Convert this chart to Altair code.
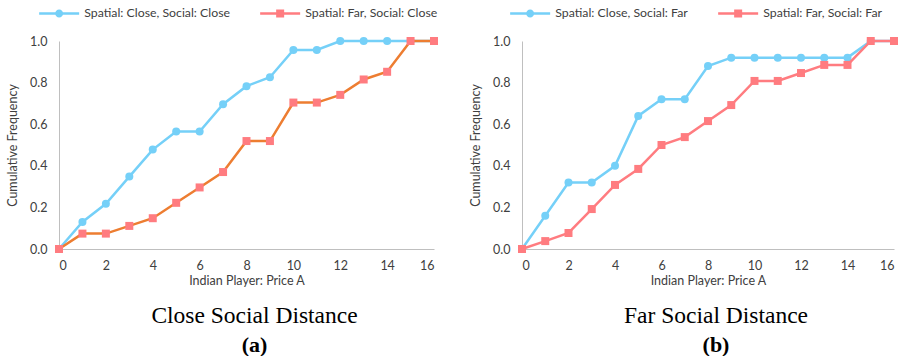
import altair as alt
import pandas as pd

prices = list(range(17))
x_ticks = [0, 2, 4, 6, 8, 10, 12, 14, 16]
y_ticks = [0.0, 0.2, 0.4, 0.6, 0.8, 1.0]

# Panel (a): Close social distance
a_names = ["Spatial: Close, Social: Close", "Spatial: Far, Social: Close"]
a_close = [0, 0.130, 0.217, 0.348, 0.478, 0.565, 0.565, 0.696, 0.783, 0.826,
           0.957, 0.957, 1.0, 1.0, 1.0, 1.0, 1.0]
a_far = [0, 0.074, 0.074, 0.111, 0.148, 0.222, 0.296, 0.370, 0.519, 0.519,
         0.704, 0.704, 0.741, 0.815, 0.852, 1.0, 1.0]

# Panel (b): Far social distance
b_names = ["Spatial: Close, Social: Far", "Spatial: Far, Social: Far"]
b_close = [0, 0.16, 0.32, 0.32, 0.40, 0.64, 0.72, 0.72, 0.88, 0.92,
           0.92, 0.92, 0.92, 0.92, 0.92, 1.0, 1.0]
b_far = [0, 0.038, 0.077, 0.192, 0.308, 0.385, 0.500, 0.538, 0.615, 0.692,
         0.808, 0.808, 0.846, 0.885, 0.885, 1.0, 1.0]

BLUE = "#75D0F8"
ORANGE = "#ED7D31"
SALMON = "#FF7C80"
FONT = "Lato"
TXT = "#404040"

CIRCLE_PATH = ("M-4,-0.25H-0.75V0.25H-4Z M0.75,-0.25H4V0.25H0.75Z "
               "M0.8,0A0.8,0.8,0,1,1,-0.8,0A0.8,0.8,0,1,1,0.8,0Z")
SQUARE_PATH = ("M-4,-0.25H-0.8V0.25H-4Z M0.8,-0.25H4V0.25H0.8Z "
               "M-0.8,-0.8H0.8V0.8H-0.8Z")


def panel(names, series, line_colors, marker_colors, shapes, title, sub,
          width, legend_x):
    rows = []
    for n, vals in zip(names, series):
        for p, v in zip(prices, vals):
            rows.append({"price": p, "freq": v, "series": n})
    df = pd.DataFrame(rows)
    base = alt.Chart(df)
    x = alt.X("price:Q", scale=alt.Scale(domain=[0, 16], nice=False),
              axis=alt.Axis(values=x_ticks, title="Indian Player: Price A",
                            grid=False, ticks=False, tickSize=0,
                            labelPadding=10, titlePadding=3,
                            domainColor="#BFBFBF", labelFont=FONT,
                            labelFontSize=12.5, labelColor=TXT,
                            titleFont=FONT, titleFontSize=12.5,
                            titleFontWeight="normal", titleColor=TXT))
    y = alt.Y("freq:Q", scale=alt.Scale(domain=[0, 1], nice=False),
              axis=alt.Axis(values=y_ticks, format=".1f",
                            title="Cumulative Frequency",
                            grid=False, ticks=False, tickSize=0,
                            labelPadding=12, titlePadding=10,
                            domainColor="#BFBFBF", labelFont=FONT,
                            labelFontSize=12.5, labelColor=TXT,
                            titleFont=FONT, titleFontSize=12.5,
                            titleFontWeight="normal", titleColor=TXT))
    layers = []
    for n, lc, mc, sh in zip(names, line_colors, marker_colors, shapes):
        f = base.transform_filter(alt.datum.series == n)
        layers.append(f.mark_line(color=lc, strokeWidth=2.5).encode(x=x, y=y))
        layers.append(f.mark_point(filled=True, color=mc, shape=sh, size=64,
                                   opacity=1).encode(x=x, y=y))
    leg = alt.Legend(orient="none", legendX=legend_x, legendY=-34,
                     direction="horizontal", title=None, symbolSize=100,
                     labelOffset=19, columnPadding=30, labelFont=FONT,
                     labelFontSize=12.3, labelColor=TXT, padding=0,
                     symbolStrokeWidth=0, symbolOpacity=1)
    legend_layer = base.transform_filter("false").mark_point(
        filled=True, opacity=1).encode(
        x=x, y=y,
        color=alt.Color("series:N",
                        scale=alt.Scale(domain=names, range=marker_colors),
                        legend=leg),
        shape=alt.Shape("series:N",
                        scale=alt.Scale(domain=names,
                                        range=[CIRCLE_PATH, SQUARE_PATH]),
                        legend=leg))
    layers.append(legend_layer)
    return alt.layer(*layers).properties(
        width=width, height=208,
        title=alt.TitleParams(text=title, subtitle=sub, orient="bottom",
                              anchor="middle", font="Liberation Serif",
                              fontSize=23.5, fontWeight="normal", color="black",
                              subtitleFont="Liberation Serif",
                              subtitleFontSize=22, subtitleFontWeight="bold",
                              subtitleColor="black", offset=17,
                              subtitlePadding=7, dx=8))


left = panel(a_names, [a_close, a_far], [BLUE, ORANGE], [BLUE, SALMON],
             ["circle", "square"], "Close Social Distance", "(a)", 375, -6)
right = panel(b_names, [b_close, b_far], [BLUE, SALMON], [BLUE, SALMON],
              ["circle", "square"], "Far Social Distance", "(b)", 372, 2)

chart = alt.hconcat(left, right, spacing=30).resolve_scale(
    color="independent", shape="independent").properties(
    padding={"left": 6, "top": 7, "right": 0, "bottom": 0},
    background="white").configure_view(stroke=None)

chart.save("out.html", embed_options={"renderer": "svg", "actions": False})
